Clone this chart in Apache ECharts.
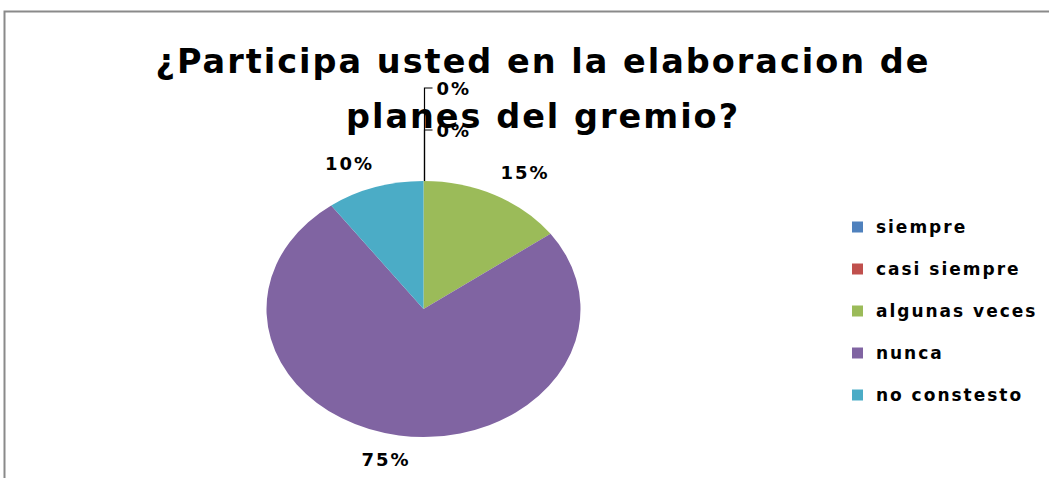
<!DOCTYPE html>
<html>
<head>
<meta charset="utf-8">
<script src="https://cdn.jsdelivr.net/npm/echarts@6/dist/echarts.min.js"></script>
<style>
  html, body { margin: 0; padding: 0; background: #fff; }
  #chart { width: 1049px; height: 478px; }
  #chart svg text[style*="DejaVu"] { letter-spacing: 2px; }
</style>
</head>
<body>
<div id="chart"></div>
<script>
// ---- data ----
const categories = ['siempre', 'casi siempre', 'algunas veces', 'nunca', 'no constesto'];
const values = [0, 0, 15, 75, 10];
const labelTexts = ['0%', '0%', '15%', '75%', '10%'];
const titleLines = ['¿Participa usted en la elaboracion de', 'planes del gremio?'];

// ---- style ----
const colors = ['#4F81BD', '#C0504D', '#9BBB59', '#8064A2', '#4BACC6'];
const CX = 423.5, CY = 309, RX = 157, RY = 128;
const LABEL_FONT = { fontFamily: 'DejaVu Sans', fontWeight: 'bold', fontSize: 18, fill: '#000' };
const LABEL_HALF_W = 23.5, LABEL_HALF_H = 9;

const total = values.reduce((a, b) => a + b, 0);
const starts = [];
let acc = 0;
values.forEach(v => { starts.push(acc); acc += v; });

function clamp1(x) { return Math.max(-1, Math.min(1, x)); }

function renderSlice(idx) {
  return function (params, api) {
    const v = api.value(0);
    const f0 = starts[idx] / total;
    const f1 = (starts[idx] + v) / total;
    const children = [];
    if (v > 0) {
      children.push({
        type: 'sector',
        x: CX, y: CY, scaleY: RY / RX,
        shape: { cx: 0, cy: 0, r: RX, r0: 0,
                 startAngle: -Math.PI / 2 + f0 * 2 * Math.PI,
                 endAngle: -Math.PI / 2 + f1 * 2 * Math.PI, clockwise: true },
        style: { fill: api.visual('color') }
      });
      const m = (f0 + f1) * Math.PI;
      const s = Math.sin(m), c = Math.cos(m);
      const d = 15;
      const ax = CX + (RX + d) * s, ay = CY - (RY + d) * c;
      children.push({
        type: 'text',
        x: ax + LABEL_HALF_W * clamp1(s / 0.35),
        y: ay - LABEL_HALF_H * clamp1(c / 0.35),
        style: Object.assign({ text: labelTexts[idx], align: 'center', verticalAlign: 'middle' }, LABEL_FONT)
      });
    } else {
      // zero-value slices: stacked labels with a leader line from the pie top
      let zeroRank = 0, zeroCount = 0;
      values.forEach((vv, i) => { if (vv === 0) { if (i < idx) zeroRank++; zeroCount++; } });
      const topY = CY - RY;
      const ly = topY - 51 - 42 * (zeroCount - 1 - zeroRank);
      children.push({
        type: 'polyline',
        shape: { points: [[CX + 1, topY], [CX + 1, ly], [CX + 9, ly]] },
        style: { stroke: '#000', lineWidth: 1.2, fill: null }
      });
      children.push({
        type: 'text', x: CX + 13, y: ly,
        style: Object.assign({ text: labelTexts[idx], align: 'left', verticalAlign: 'middle' }, LABEL_FONT)
      });
    }
    return { type: 'group', children: children };
  };
}

const series = categories.map((name, i) => ({
  type: 'custom',
  name: name,
  coordinateSystem: 'none',
  color: colors[i],
  itemStyle: { color: colors[i] },
  data: [[values[i]]],
  renderItem: renderSlice(i),
  silent: true
}));

const chart = echarts.init(document.getElementById('chart'), null, { renderer: 'svg' });
chart.setOption({
  animation: false,
  backgroundColor: '#fff',
  title: {
    text: titleLines.join('\n'),
    left: 538, top: 29, textAlign: 'center',
    textStyle: { fontFamily: 'DejaVu Sans', fontWeight: 'bold', fontSize: 33.5, lineHeight: 55, color: '#000' }
  },
  legend: {
    data: categories,
    orient: 'vertical',
    left: 847, top: 213,
    icon: 'rect', itemWidth: 11, itemHeight: 11, itemGap: 24,
    formatter: name => ' ' + name,
    textStyle: { fontFamily: 'DejaVu Sans', fontWeight: 'bold', fontSize: 17, color: '#000', lineHeight: 18 },
    selectedMode: false
  },
  graphic: [{
    type: 'polyline', silent: true,
    shape: { points: [[4.5, 478], [4.5, 11.5], [1049, 11.5]] },
    style: { stroke: '#8a8a8a', lineWidth: 2, fill: null }
  }],
  series: series
});
</script>
</body>
</html>
